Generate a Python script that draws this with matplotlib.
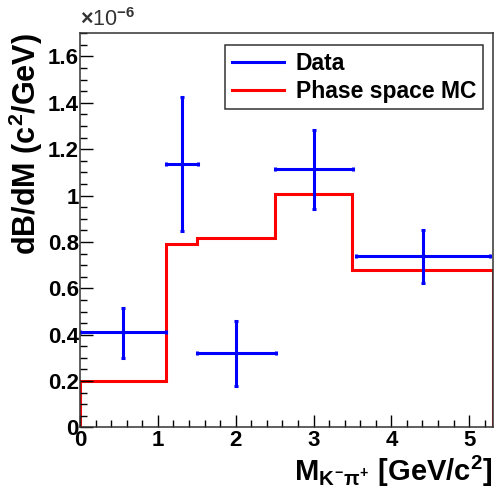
import numpy as np
import matplotlib.pyplot as plt
from matplotlib.ticker import MultipleLocator, FormatStrFormatter
from matplotlib.lines import Line2D

plt.rcParams['font.family'] = ['Liberation Sans', 'DejaVu Sans']
plt.rcParams['mathtext.fontset'] = 'custom'
plt.rcParams['mathtext.rm'] = 'Liberation Sans:bold'
plt.rcParams['mathtext.it'] = 'Liberation Sans:bold'
plt.rcParams['mathtext.bf'] = 'Liberation Sans:bold'

# data points (units of 1e-6)
data_x = [0.55, 1.31, 2.01, 3.01, 4.41]
data_xerr = [0.55, 0.21, 0.51, 0.5, 0.86]
data_y = [0.41, 1.137, 0.32, 1.114, 0.74]
data_yerr_lo = [0.11, 0.29, 0.14, 0.17, 0.115]
data_yerr_hi = [0.105, 0.29, 0.14, 0.17, 0.112]

# phase space MC histogram
mc_edges = [0, 1.1, 1.5, 2.5, 3.5, 5.3]
mc_vals = [0.201, 0.79, 0.819, 1.006, 0.678]

fig = plt.figure(figsize=(4.94, 4.97), dpi=100)
ax = fig.add_axes([0.162, 0.140, 0.835, 0.793])

ax.stairs(mc_vals, mc_edges, color='#ff0000', lw=2.2, baseline=0)
ax.errorbar(data_x, data_y, xerr=data_xerr, yerr=[data_yerr_lo, data_yerr_hi],
            fmt='none', ecolor='#0000ff', elinewidth=2.2, capsize=1.5, capthick=2.2)

ax.set_xlim(0, 5.3)
ax.set_ylim(0, 1.7)
ax.xaxis.set_major_locator(MultipleLocator(1))
ax.xaxis.set_minor_locator(MultipleLocator(0.2))
ax.yaxis.set_major_locator(MultipleLocator(0.2))
ax.yaxis.set_minor_locator(MultipleLocator(0.05))
ax.xaxis.set_major_formatter(FormatStrFormatter('%g'))
ax.yaxis.set_major_formatter(FormatStrFormatter('%g'))
ax.tick_params(which='major', direction='in', length=9, width=1, labelsize=16, pad=2)
ax.tick_params(axis='y', pad=1)
ax.tick_params(which='minor', direction='in', length=5, width=1)
for lab in ax.get_xticklabels() + ax.get_yticklabels():
    lab.set_fontweight('bold')
for s in ax.spines.values():
    s.set_linewidth(1.1)
    s.set_color('#333333')

ax.set_xlabel(r'M$_{K^{-}\pi^{+}}$ [GeV/c$^{2}$]', fontsize=21, fontweight='bold',
              loc='right', labelpad=2)
ax.set_ylabel(r'dB/dM (c$^{2}$/GeV)', fontsize=22, fontweight='bold', loc='top')
ax.yaxis.set_label_coords(-0.085, 1.0)
ax.text(0.0, 1.005, r'$\times$10$^{-6}$', transform=ax.transAxes, fontsize=15.5,
        ha='left', va='bottom', color='#333333')

h = [Line2D([], [], color='#0000ff', lw=2.2), Line2D([], [], color='#ff0000', lw=2.2)]
leg = ax.legend(h, ['Data', 'Phase space MC'], loc='upper right',
                bbox_to_anchor=(0.977, 0.97), fancybox=False, edgecolor='#333333',
                framealpha=1, handlelength=2.3, handletextpad=0.5,
                prop={'weight': 'bold', 'size': 16.5}, borderpad=0.3,
                labelspacing=0.2, borderaxespad=0)
leg.get_frame().set_linewidth(1.1)

fig.savefig('out.png', dpi=100)
